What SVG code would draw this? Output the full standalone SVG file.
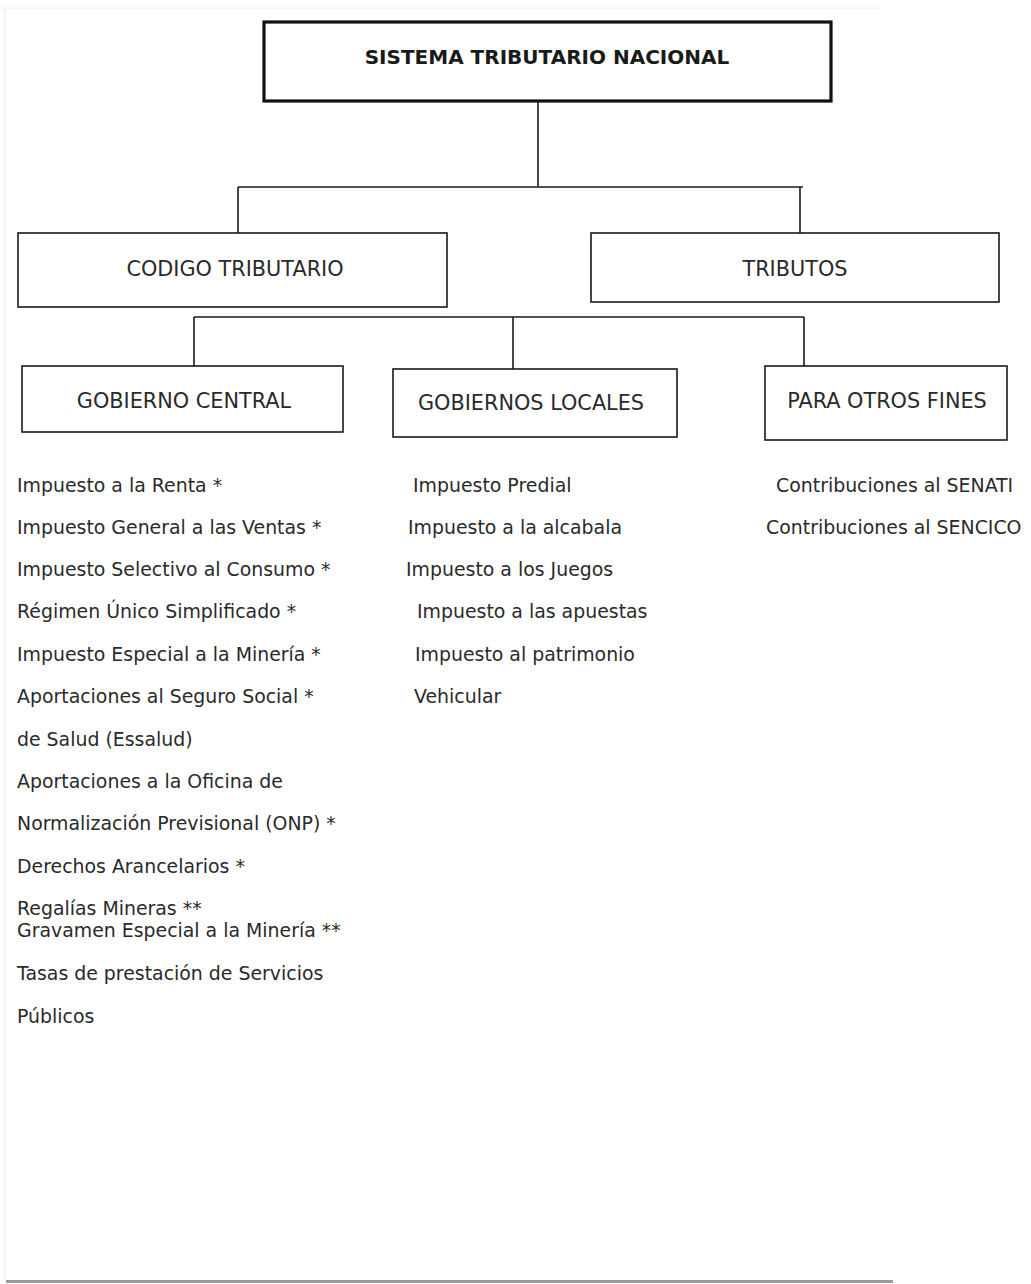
<svg xmlns="http://www.w3.org/2000/svg" width="1031" height="1284" viewBox="0 0 1031 1284">
<style>
.bg{fill:#ffffff}
.box{fill:#ffffff;stroke:#1a1a1a;stroke-width:1.6}
.main{fill:#ffffff;stroke:#111;stroke-width:3.2}
.lbl{font-family:"DejaVu Sans",Verdana,sans-serif;font-size:20.8px;fill:#2a2a2a}
.ttl{font-family:"DejaVu Sans",Verdana,sans-serif;font-size:20px;font-weight:bold;fill:#1a1a1a}
.item{font-family:"DejaVu Sans",Verdana,sans-serif;font-size:18.9px;fill:#2a2a2a}
.con{fill:none;stroke:#1a1a1a;stroke-width:1.6}
</style>
<rect class="bg" x="0" y="0" width="1031" height="1284"/>
<g id="page-edge">
<line x1="0" y1="8" x2="880" y2="8" stroke="#f2f2f2" stroke-width="1"/>
<line x1="5" y1="8" x2="5" y2="1280" stroke="#f0f0f0" stroke-width="1.5"/>
<line x1="6" y1="1281.5" x2="893" y2="1281.5" stroke="#9a9a9a" stroke-width="3"/>
</g>
<g id="connectors">
<path class="con" d="M538 101 V187 M238 187 H803 M238 187 V233 M800 187 V233"/>
<path class="con" d="M194 317 H804 M194 317 V366 M513 317 V369 M804 317 V366"/>
</g>
<g id="node-sistema">
<rect class="main" x="264" y="22" width="567" height="79"/>
<text class="ttl" x="547" y="64" text-anchor="middle">SISTEMA TRIBUTARIO NACIONAL</text>
</g>
<g id="node-codigo">
<rect class="box" x="18" y="233" width="429" height="74"/>
<text class="lbl" x="235" y="275.5" text-anchor="middle">CODIGO TRIBUTARIO</text>
</g>
<g id="node-tributos">
<rect class="box" x="591" y="233" width="408" height="69"/>
<text class="lbl" x="795" y="275.5" text-anchor="middle">TRIBUTOS</text>
</g>
<g id="node-gobierno-central">
<rect class="box" x="22" y="366" width="321" height="66"/>
<text class="lbl" x="184" y="407.5" text-anchor="middle">GOBIERNO CENTRAL</text>
</g>
<g id="node-gobiernos-locales">
<rect class="box" x="393" y="369" width="284" height="68"/>
<text class="lbl" x="531" y="409.5" text-anchor="middle">GOBIERNOS LOCALES</text>
</g>
<g id="node-otros-fines">
<rect class="box" x="765" y="366" width="242" height="74"/>
<text class="lbl" x="887" y="407.5" text-anchor="middle">PARA OTROS FINES</text>
</g>
<g id="list-central">
<text class="item" x="17" y="492">Impuesto a la Renta *</text>
<text class="item" x="17" y="534">Impuesto General a las Ventas *</text>
<text class="item" x="17" y="576">Impuesto Selectivo al Consumo *</text>
<text class="item" x="17" y="618">Régimen Único Simplificado *</text>
<text class="item" x="17" y="661">Impuesto Especial a la Minería *</text>
<text class="item" x="17" y="703">Aportaciones al Seguro Social *</text>
<text class="item" x="17" y="746">de Salud (Essalud)</text>
<text class="item" x="17" y="788">Aportaciones a la Oficina de</text>
<text class="item" x="17" y="830">Normalización Previsional (ONP) *</text>
<text class="item" x="17" y="873">Derechos Arancelarios *</text>
<text class="item" x="17" y="915">Regalías Mineras **</text>
<text class="item" x="17" y="937">Gravamen Especial a la Minería **</text>
<text class="item" x="17" y="980">Tasas de prestación de Servicios</text>
<text class="item" x="17" y="1023">Públicos</text>
</g>
<g id="list-locales">
<text class="item" x="413" y="492">Impuesto Predial</text>
<text class="item" x="408" y="534">Impuesto a la alcabala</text>
<text class="item" x="406" y="576">Impuesto a los Juegos</text>
<text class="item" x="417" y="618">Impuesto a las apuestas</text>
<text class="item" x="415" y="661">Impuesto al patrimonio</text>
<text class="item" x="414" y="703">Vehicular</text>
</g>
<g id="list-otros">
<text class="item" x="776" y="492">Contribuciones al SENATI</text>
<text class="item" x="766" y="534">Contribuciones al SENCICO</text>
</g>
</svg>
